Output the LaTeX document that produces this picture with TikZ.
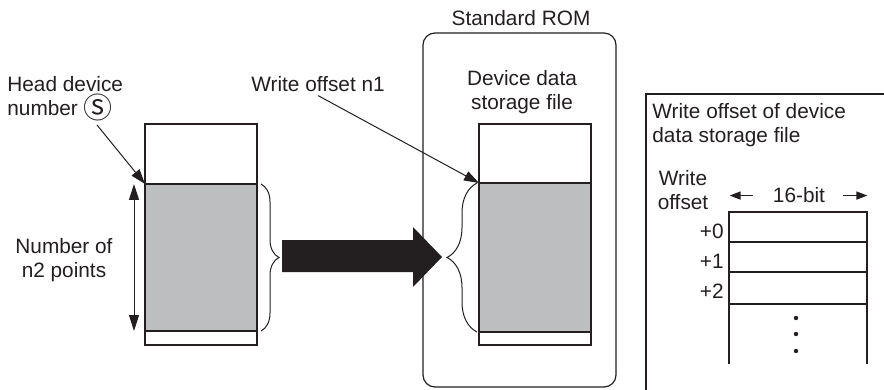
\documentclass[tikz,border=0pt]{standalone}
\usepackage{fontspec}
\setmainfont{Liberation Sans}
\newfontfamily\circfont{Noto Sans CJK JP}
\usetikzlibrary{arrows.meta,calc,decorations.pathreplacing}
\definecolor{bg}{HTML}{FFFFFF}
\definecolor{ink}{HTML}{231F20}
\definecolor{cellfill}{HTML}{BCBEC0}
\newcommand{\headmark}{\smash{\raisebox{-1.5pt}{\circfont\fontsize{14.5}{12}\selectfont Ⓢ}}}

\begin{document}
\begin{tikzpicture}[x=0.5pt,y=-0.5pt,line join=miter,
  lbl/.style={font=\fontsize{10.4}{12}\selectfont,text=ink,inner sep=0pt},
  cell/.style={draw=ink,line width=0.6pt},
  ptr/.style={-{Triangle[length=7.5pt,width=5pt]},line width=0.5pt,ink},
  dimarrow/.style={{Triangle[length=8pt,width=5pt]}-{Triangle[length=8pt,width=5pt]},line width=0.5pt,ink},
  bitarrow/.style={-{Triangle[length=5.5pt,width=4pt]},line width=0.7pt,ink},
  curly/.style={decorate,decoration={brace,amplitude=#1},line width=0.5pt,ink}]
  \useasboundingbox (0,0) rectangle (884,390);
  \clip (0,0) rectangle (884,390);
  \fill[bg] (0,0) rectangle (884,390);

  % ---- source device area ----
  \draw[cell] (145,124) rectangle (257,345);
  \draw[cell,fill=cellfill] (145,184) rectangle (257,331);
  \coordinate (srctop) at (145,184);
  \node[lbl,anchor=base west,align=left] (headlbl) at (7,116) {Head device\\number \headmark};
  \coordinate (headtail) at (97,125);
  \draw[ptr] (headtail) -- (srctop);
  % number of points
  \draw[dimarrow] (134,184) -- (134,331);
  \node[lbl,anchor=base,align=center] (pointslbl) at (64,277) {Number of\\n2 points};
  \draw[curly=9pt] (261,184) -- (261,331);

  % ---- transfer arrow ----
  \fill[ink] (282,240) -- (413,240) -- (413,227) -- (442,257) -- (413,287) -- (413,272) -- (282,272) -- cycle;

  % ---- standard ROM ----
  \draw[ink,line width=0.6pt,rounded corners=6pt] (423,33) rectangle (616,387);
  \node[lbl,anchor=base] (romlbl) at (521,26) {Standard ROM};
  \node[lbl,anchor=base,align=center] (filelbl) at (522,110) {Device data\\storage file};
  \draw[cell] (479,124) rectangle (591,345);
  \draw[cell,fill=cellfill] (479,183) rectangle (591,332);
  \coordinate (dsttop) at (479,183);
  \draw[curly=15pt] (477,332) -- (477,183);
  \node[lbl,anchor=base west] (offsetlbl) at (251,92) {Write offset n1};
  \draw[ptr] ($(offsetlbl.south)+(0,3)$) -- (dsttop);

  % ---- write offset panel ----
  \draw[ink,line width=0.6pt] (646,94) rectangle (920,430);
  \node[lbl,anchor=base west,align=left] (panellbl) at (652,142) {Write offset of device\\data storage file};
  \node[lbl,anchor=base,align=center] (wofflbl) at (683,209) {Write\\offset};
  \node[lbl,anchor=base] (widthlbl) at (799,203) {16-bit};
  \draw[bitarrow] ($(widthlbl.west)+(-20,0)$) -- ($(widthlbl.west)+(-43,0)$);
  \draw[bitarrow] ($(widthlbl.east)+(18,0)$) -- ($(widthlbl.east)+(42,0)$);
  \draw[cell] (729,364) -- (729,212) -- (867,212) -- (867,364);
  \foreach \y in {242,272,304}
    \draw[cell] (729,\y) -- (867,\y);
  \foreach \i/\y in {0/238,1/268,2/298}
    \node[lbl,anchor=base east] (off\i) at (724,\y) {+\i};
  \foreach \y in {318,334,351}
    \fill[ink] (796,\y) circle (2.2);
\end{tikzpicture}
\end{document}
